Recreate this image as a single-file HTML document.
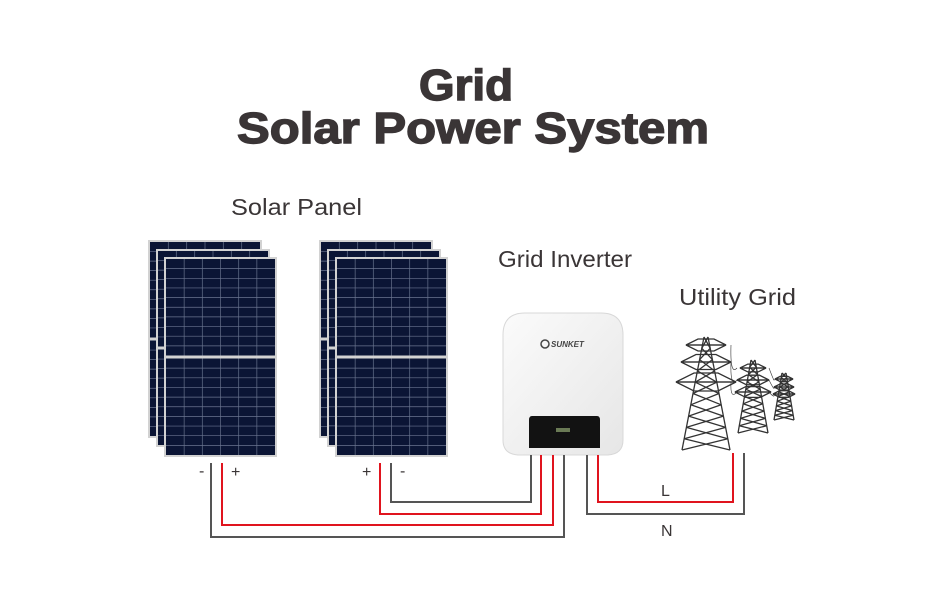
<!DOCTYPE html>
<html><head><meta charset="utf-8"><style>
html,body{margin:0;padding:0;background:#fff}
svg{display:block}
text{font-family:"Liberation Sans",Arial,sans-serif;fill:#3a3536}
</style></head><body>
<svg id="s" width="945" height="591" viewBox="0 0 945 591" xmlns="http://www.w3.org/2000/svg">
<text x="466" y="100" text-anchor="middle" font-size="44" font-weight="bold" stroke="#3a3536" stroke-width="1.4" textLength="94" lengthAdjust="spacingAndGlyphs">Grid</text>
<text x="473" y="143" text-anchor="middle" font-size="44" font-weight="bold" stroke="#3a3536" stroke-width="1.4" textLength="472" lengthAdjust="spacingAndGlyphs">Solar Power System</text>
<text x="231" y="215" font-size="23" textLength="131" lengthAdjust="spacingAndGlyphs">Solar Panel</text>
<text x="498" y="267" font-size="23" textLength="134" lengthAdjust="spacingAndGlyphs">Grid Inverter</text>
<text x="679" y="305" font-size="23" textLength="117" lengthAdjust="spacingAndGlyphs">Utility Grid</text>
<g id="panels"></g>
<defs><linearGradient id="ig" x1="0" y1="0" x2="1" y2="1"><stop offset="0" stop-color="#fbfbfb"/><stop offset="1" stop-color="#e6e6e6"/></linearGradient></defs>
<path d="M503 335 Q503 313 525 313 L601 313 Q623 313 623 335 L623 440 Q623 454 608 455 L518 455 Q503 454 503 440 Z" fill="url(#ig)" stroke="#d8d8d8"/>
<path d="M532 416 L597 416 Q600 416 600 420 L600 448 L529 448 L529 420 Q529 416 532 416 Z" fill="#121212"/>
<rect x="556" y="428" width="14" height="4" fill="#6a7a55"/>
<circle cx="545" cy="344" r="4" fill="none" stroke="#444" stroke-width="1.5"/>
<text x="551" y="347" font-size="8" font-weight="bold" font-style="italic" style="fill:#444">SUNKET</text>
<g fill="none" stroke-width="2">
<polyline points="211,463 211,537 564,537 564,455" stroke="#555"/>
<polyline points="222,463 222,525 553,525 553,455" stroke="#e0141e"/>
<polyline points="380,463 380,514 541,514 541,455" stroke="#e0141e"/>
<polyline points="391,463 391,502 531,502 531,455" stroke="#555"/>
<polyline points="598,455 598,502 733,502 733,453" stroke="#e0141e"/>
<polyline points="587,455 587,514 744,514 744,453" stroke="#555"/>
</g>
<text x="199" y="476" font-size="16">-</text>
<text x="231" y="477" font-size="16">+</text>
<text x="362" y="477" font-size="16">+</text>
<text x="400" y="476" font-size="16">-</text>
<text x="661" y="496" font-size="16">L</text>
<text x="661" y="536" font-size="16">N</text>
<g id="towers" fill="none" stroke="#333" stroke-width="1.3"></g>
</svg>
<script>
var NS="http://www.w3.org/2000/svg";
function el(p,t,a){var e=document.createElementNS(NS,t);for(var k in a)e.setAttribute(k,a[k]);p.appendChild(e);return e;}
var P=document.getElementById("panels");
function panel(x,y,w,h){
 el(P,"rect",{x:x,y:y,width:w,height:h,fill:"#d2d2d2"});
 el(P,"rect",{x:x+2,y:y+2,width:w-4,height:h-4,fill:"#0b1535"});
 for(var i=1;i<6;i++){var cx=x+2+(w-4)*i/6;el(P,"line",{x1:cx,y1:y+2,x2:cx,y2:y+h-2,stroke:"#5a6580","stroke-width":0.8});}
 var mid=y+h/2;
 el(P,"rect",{x:x,y:mid-1.5,width:w,height:3,fill:"#d2d2d2"});
 for(var j=1;j<10;j++){var yy=y+2+(mid-1.5-y-2)*j/10;el(P,"line",{x1:x+2,y1:yy,x2:x+w-2,y2:yy,stroke:"#6b7590","stroke-width":0.7});
 var y2=mid+1.5+(y+h-2-mid-1.5)*j/10;el(P,"line",{x1:x+2,y1:y2,x2:x+w-2,y2:y2,stroke:"#6b7590","stroke-width":0.7});}
}
[0,171].forEach(function(o){panel(148+o,240,114,198);panel(156+o,249,114,198);panel(164+o,257,113,200);});
var T=document.getElementById("towers");
function tower(cx,top,bot,hb,arms){
 var tw=2;
 el(T,"polyline",{points:(cx-tw)+","+top+" "+(cx-hb)+","+bot});
 el(T,"polyline",{points:(cx+tw)+","+top+" "+(cx+hb)+","+bot});
 var n=10;
 for(var i=0;i<n;i++){var y1=top+(bot-top)*i/n,y2=top+(bot-top)*(i+1)/n;
  var w1=tw+(hb-tw)*i/n,w2=tw+(hb-tw)*(i+1)/n;
  el(T,"line",{x1:cx-w1,y1:y1,x2:cx+w2,y2:y2});el(T,"line",{x1:cx+w1,y1:y1,x2:cx-w2,y2:y2});}
 arms.forEach(function(a){var y=a[0],w=a[1];
  el(T,"polygon",{points:(cx-w)+","+y+" "+(cx+w)+","+y+" "+(cx+w*0.4)+","+(y+w*0.3)+" "+(cx-w*0.4)+","+(y+w*0.3)});
  el(T,"polygon",{points:(cx-w)+","+y+" "+(cx-w*0.4)+","+(y-w*0.3)+" "+(cx+w*0.4)+","+(y-w*0.3)+" "+(cx+w)+","+y});});
}
tower(706,337,450,24,[[345,20],[362,25],[382,30]]);
tower(753,360,433,15,[[368,13],[380,16],[392,18]]);
tower(784,373,420,10,[[379,9],[387,10],[394,11]]);
[[362,380],[382,392],[345,368]].forEach(function(p){el(T,"path",{d:"M"+(706+25)+" "+p[0]+" Q730 "+(p[1]+8)+" "+(753-16)+" "+p[1],"stroke-width":0.6});});
[[380,387],[392,394],[368,379]].forEach(function(p){el(T,"path",{d:"M"+(753+16)+" "+p[0]+" Q775 "+(p[1]+5)+" "+(784-10)+" "+p[1],"stroke-width":0.6});});
</script>
</body></html>
